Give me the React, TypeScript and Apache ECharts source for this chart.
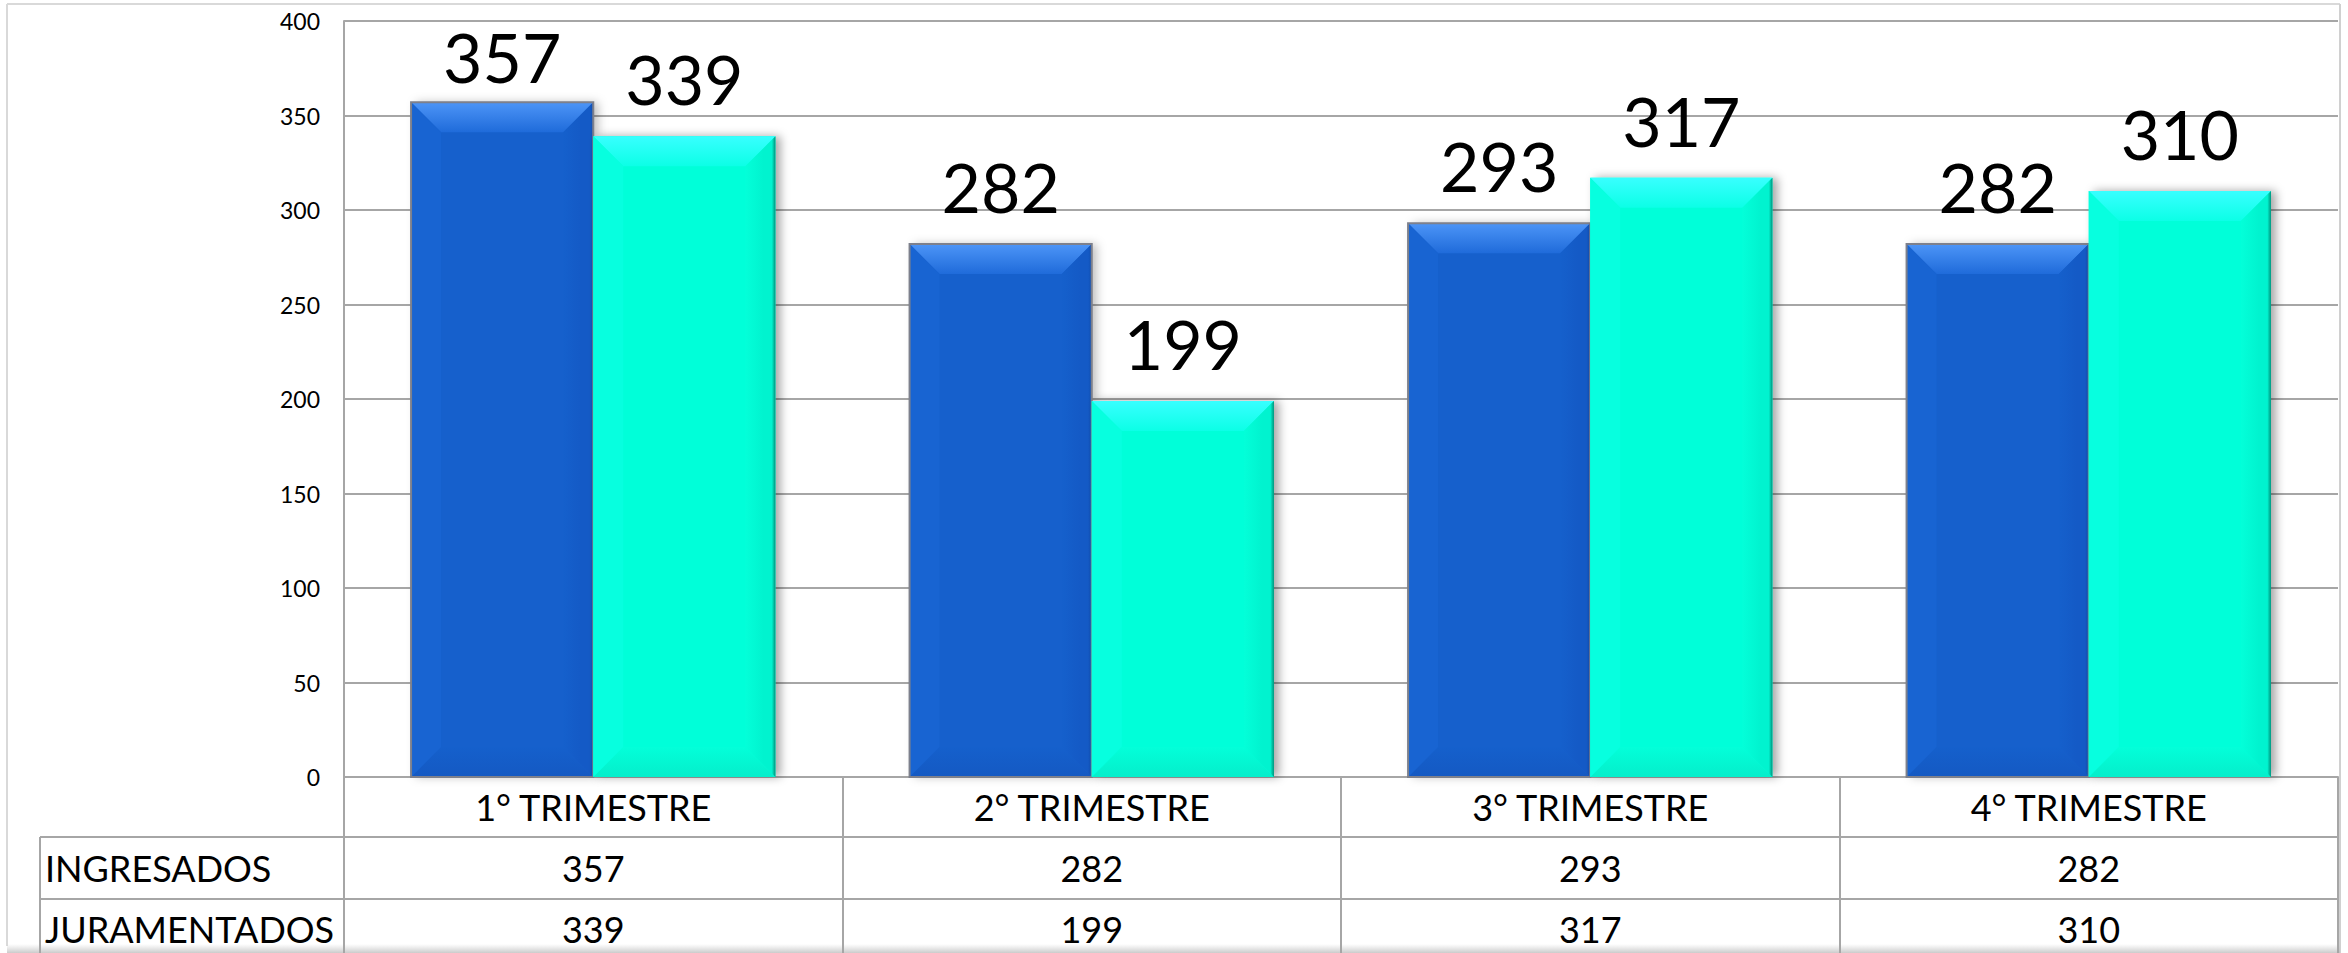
import React, { useEffect, useRef } from "react";
import * as echarts from "echarts";

const CATEGORIES = ["1° TRIMESTRE", "2° TRIMESTRE", "3° TRIMESTRE", "4° TRIMESTRE"];
const SERIES_NAMES = ["INGRESADOS", "JURAMENTADOS"];
const INGRESADOS = [357, 282, 293, 282];
const JURAMENTADOS = [339, 199, 317, 310];
const Y_MIN = 0;
const Y_MAX = 400;
const Y_STEP = 50;

const W = 2348;
const H = 953;
const GRID = { left: 344, right: 10, top: 21, bottom: 176 };
const FONT = "Lato, 'Open Sans', sans-serif";
const LINE = "#a6a6a6";

const PALETTES = [
  {
    main: "#1560cc",
    left: "#1864d2",
    top0: "#4d95f7",
    top1: "#1f6bda",
    bottom: "#1459c3",
    right0: "#145ac6",
    right1: "#104dae",
    stroke: "#7d808c",
    shadow: "rgba(0,0,0,0.25)",
  },
  {
    main: "#03ffd9",
    left: "#07ffdf",
    top0: "#38ffff",
    top1: "#0cffe6",
    bottom: "#05eecb",
    right0: "#01f3cf",
    right1: "#00917a",
    stroke: "none",
    shadow: "rgba(0,0,0,0.35)",
  },
];

const BAR_FRAC = 182 / 498;
const BEVEL = 30;

function makeRenderItem(sIdx: number) {
  const pal = PALETTES[sIdx];
  return (params: any, api: any) => {
    const cat = api.value(0);
    const val = api.value(1);
    const base = api.coord([cat, 0]);
    const top = api.coord([cat, val]);
    const catW = api.size([1, 0])[0];
    const bw = catW * BAR_FRAC;
    const x0 = sIdx === 0 ? base[0] - bw : base[0];
    const x1 = x0 + bw;
    const y0 = top[1];
    const y1 = base[1];
    const h = y1 - y0;
    const b = Math.min(BEVEL, h / 2, bw / 2);
    const cx = (x0 + x1) / 2;
    const gridTop = params.coordSys.y;
    const labelY = Math.max(y0 - 33 - 24.5, gridTop + 35.5);
    const hasStroke = pal.stroke !== "none";
    return {
      type: "group",
      children: [
        {
          type: "rect",
          shape: { x: x0, y: y0, width: bw, height: h },
          style: {
            fill: pal.main,
            shadowBlur: 10,
            shadowOffsetX: 5,
            shadowOffsetY: 0,
            shadowColor: pal.shadow,
          },
        },
        {
          type: "polygon",
          shape: { points: [[x0, y0], [x1, y0], [x1 - b, y0 + b], [x0 + b, y0 + b]] },
          style: {
            fill: new echarts.graphic.LinearGradient(0, 0, 0, 1, [
              { offset: 0, color: pal.top0 },
              { offset: 1, color: pal.top1 },
            ]),
          },
        },
        {
          type: "polygon",
          shape: { points: [[x0, y1], [x1, y1], [x1 - b, y1 - b], [x0 + b, y1 - b]] },
          style: {
            fill: new echarts.graphic.LinearGradient(0, 0, 0, 1, [
              { offset: 0, color: pal.main },
              { offset: 1, color: pal.bottom },
            ]),
          },
        },
        {
          type: "polygon",
          shape: { points: [[x0, y0], [x0 + b, y0 + b], [x0 + b, y1 - b], [x0, y1]] },
          style: { fill: pal.left },
        },
        {
          type: "polygon",
          shape: { points: [[x1, y0], [x1 - b, y0 + b], [x1 - b, y1 - b], [x1, y1]] },
          style: {
            fill: new echarts.graphic.LinearGradient(0, 0, 1, 0, [
              { offset: 0, color: pal.main },
              { offset: 0.6, color: pal.right0 },
              { offset: 0.88, color: pal.right0 },
              { offset: 1, color: pal.right1 },
            ]),
          },
        },
        {
          type: "rect",
          shape: { x: x0, y: y0, width: bw, height: h },
          style: {
            fill: "none",
            stroke: hasStroke ? pal.stroke : "none",
            lineWidth: hasStroke ? 2 : 0,
          },
        },
        {
          type: "text",
          x: cx,
          y: labelY,
          style: {
            text: String(val),
            fontSize: 68,
            fontFamily: FONT,
            fill: "#000",
            align: "center",
            verticalAlign: "middle",
          },
        },
      ],
    };
  };
}

export default function App() {
  const ref = useRef<HTMLDivElement>(null);

  useEffect(() => {
    if (!ref.current) return;
    const chart = echarts.init(ref.current, null, { renderer: "svg" });
    const seriesData = [INGRESADOS, JURAMENTADOS];
    const gridBottomY = H - GRID.bottom;
    const row1 = gridBottomY + 60;
    const row2 = gridBottomY + 122;

    const hLine = (x1: number, y1: number, x2: number, y2: number, color = LINE, w = 2) => ({
      type: "line",
      shape: { x1, y1, x2, y2 },
      style: { stroke: color, lineWidth: w },
      silent: true,
    });

    const tableLabel = (margin: number) => ({
      fontSize: 36,
      fontFamily: FONT,
      color: "#000",
      margin,
      verticalAlign: "middle",
      interval: 0,
    });

    chart.setOption({
      animation: false,
      backgroundColor: "#ffffff",
      textStyle: { fontFamily: FONT },
      grid: { left: GRID.left, right: GRID.right, top: GRID.top, bottom: GRID.bottom, containLabel: false },
      xAxis: [
        {
          type: "category",
          data: CATEGORIES,
          position: "bottom",
          offset: 0,
          boundaryGap: true,
          axisLine: { show: true, lineStyle: { color: LINE, width: 2 } },
          axisTick: { show: true, alignWithLabel: false, length: GRID.bottom, lineStyle: { color: LINE, width: 2 } },
          axisLabel: tableLabel(30),
          splitLine: { show: false },
        },
        {
          type: "category",
          data: INGRESADOS.map(String),
          position: "bottom",
          offset: 0,
          axisLine: { show: false },
          axisTick: { show: false },
          axisLabel: tableLabel(91),
        },
        {
          type: "category",
          data: JURAMENTADOS.map(String),
          position: "bottom",
          offset: 0,
          axisLine: { show: false },
          axisTick: { show: false },
          axisLabel: tableLabel(152),
        },
      ],
      yAxis: {
        type: "value",
        min: Y_MIN,
        max: Y_MAX,
        interval: Y_STEP,
        axisLine: { show: true, lineStyle: { color: LINE, width: 2 } },
        axisTick: { show: false },
        axisLabel: { fontSize: 23, fontFamily: FONT, color: "#000", margin: 24 },
        splitLine: { show: true, lineStyle: { color: LINE, width: 2 } },
      },
      series: seriesData.map((arr, sIdx) => ({
        type: "custom",
        name: SERIES_NAMES[sIdx],
        xAxisIndex: 0,
        yAxisIndex: 0,
        renderItem: makeRenderItem(sIdx),
        encode: { x: 0, y: 1 },
        data: arr.map((v, i) => [i, v]),
        clip: false,
        z: 3,
      })),
      graphic: [
        hLine(7, 4, 2340, 4, "#d9d9d9", 2),
        hLine(7, 4, 7, 946, "#d9d9d9", 2),
        hLine(2340, 4, 2340, H, "#d0d0d0", 2),
        {
          type: "rect",
          shape: { x: 7, y: 944, width: 2333, height: 9 },
          style: {
            fill: new echarts.graphic.LinearGradient(0, 0, 0, 1, [
              { offset: 0, color: "rgba(200,200,200,0)" },
              { offset: 1, color: "rgba(190,190,190,0.8)" },
            ]),
          },
          silent: true,
        },
        hLine(40, row1, W - GRID.right, row1),
        hLine(40, row2, W - GRID.right, row2),
        hLine(40, row1, 40, H),
        {
          type: "text",
          x: 45,
          y: (row1 + row2) / 2,
          style: {
            text: SERIES_NAMES[0],
            fontSize: 36,
            fontFamily: FONT,
            fill: "#000",
            align: "left",
            verticalAlign: "middle",
          },
        },
        {
          type: "text",
          x: 45,
          y: row2 + 30,
          style: {
            text: SERIES_NAMES[1],
            fontSize: 36,
            fontFamily: FONT,
            fill: "#000",
            align: "left",
            verticalAlign: "middle",
          },
        },
      ],
    });

    return () => chart.dispose();
  }, []);

  return (
    <div
      ref={ref}
      style={{ position: "absolute", left: 0, top: 0, width: W, height: H, background: "#fff" }}
    />
  );
}
